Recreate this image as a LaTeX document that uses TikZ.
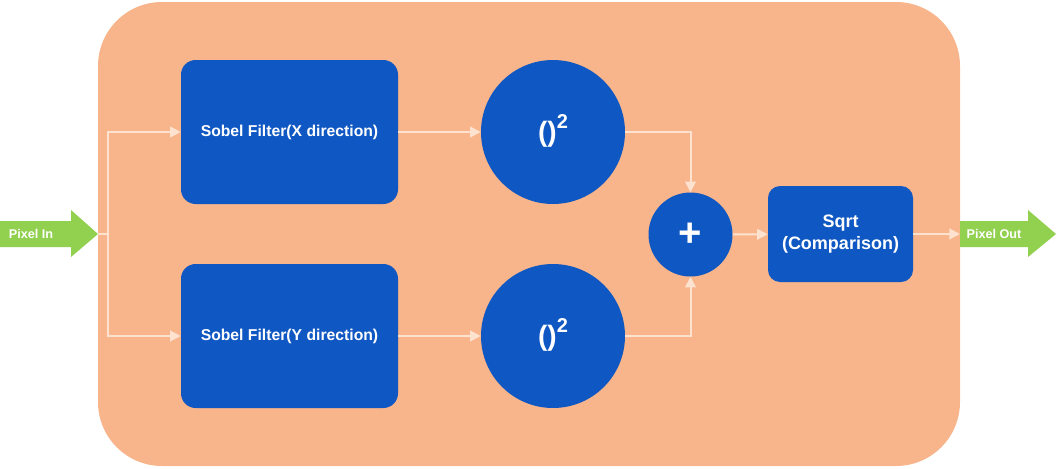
\documentclass[tikz,border=0pt]{standalone}
\usepackage{fontspec}
\setmainfont{Liberation Sans}
\usetikzlibrary{arrows.meta,positioning}

\definecolor{panelbg}{HTML}{F8B48A}
\definecolor{blockblue}{HTML}{0F57C2}
\definecolor{portgreen}{HTML}{92D050}
\definecolor{wirec}{HTML}{FDE2D0}

\newcommand{\squared}{\raisebox{6pt}{()\raisebox{0.85ex}{\fontsize{15}{17}\selectfont 2}}}

\begin{document}
\begin{tikzpicture}[x=0.75pt,y=-0.75pt,
    filter/.style={fill=blockblue, rounded corners=11pt, minimum width=162.75pt,
        minimum height=108pt, text=white, font=\bfseries\fontsize{11.8}{14}\selectfont},
    square/.style={circle, fill=blockblue, minimum size=108pt, inner sep=0pt,
        text=white, font=\bfseries\fontsize{21}{24}\selectfont},
    adder/.style={circle, fill=blockblue, minimum size=63pt, inner sep=0pt,
        text=white, font=\bfseries\fontsize{30}{32}\selectfont},
    rootbox/.style={fill=blockblue, rounded corners=9pt, minimum width=108.75pt,
        minimum height=72pt, text=white, align=center,
        font=\bfseries\fontsize{13.5}{17}\selectfont},
    portlabel/.style={text=white, font=\bfseries\fontsize{9.5}{11}\selectfont},
    wire/.style={draw=wirec, line width=1.5pt},
    conn/.style={wire, -{Triangle[length=8pt,width=8pt]}}]

    \useasboundingbox (0,0) rectangle (1057,468);

    % Background panel
    \fill[panelbg, rounded corners=48pt] (98,2) rectangle (960,466);

    % Input and output ports
    \fill[portgreen] (0,221) -- (71,221) -- (71,210) -- (98,234) -- (71,257)
        -- (71,247) -- (0,247) -- cycle;
    \node[portlabel] (pixin) at (31,234) {Pixel In};
    \fill[portgreen] (960,221) -- (1028,221) -- (1028,210) -- (1056,234) -- (1028,257)
        -- (1028,247) -- (960,247) -- cycle;
    \node[portlabel] (pixout) at (994,234) {Pixel Out};

    % Blocks
    \node[filter] (sobx) at (289.5,132) {Sobel Filter(X direction)};
    \node[filter] (soby) at (289.5,336) {Sobel Filter(Y direction)};
    \node[square] (sqx) at (553,132) {\squared};
    \node[square] (sqy) at (553,336) {\squared};
    \node[adder] (plus) at (690.5,234.5) {+};
    \node[rootbox] (sqrt) at (840.5,234) {Sqrt\\(Comparison)};

    % Connections
    \coordinate (intip) at (98,234);
    \coordinate (split) at (108,234);
    \coordinate (outtail) at (960,234);
    \draw[wire] (intip) -- (split);
    \draw[conn] (split) |- (sobx.west);
    \draw[conn] (split) |- (soby.west);
    \draw[conn] (sobx) -- (sqx);
    \draw[conn] (soby) -- (sqy);
    \draw[conn] (sqx.east) -| (plus.north);
    \draw[conn] (sqy.east) -| (plus.south);
    \draw[conn] (plus) -- (sqrt);
    \draw[conn] (sqrt.east) -- (outtail);
\end{tikzpicture}
\end{document}
